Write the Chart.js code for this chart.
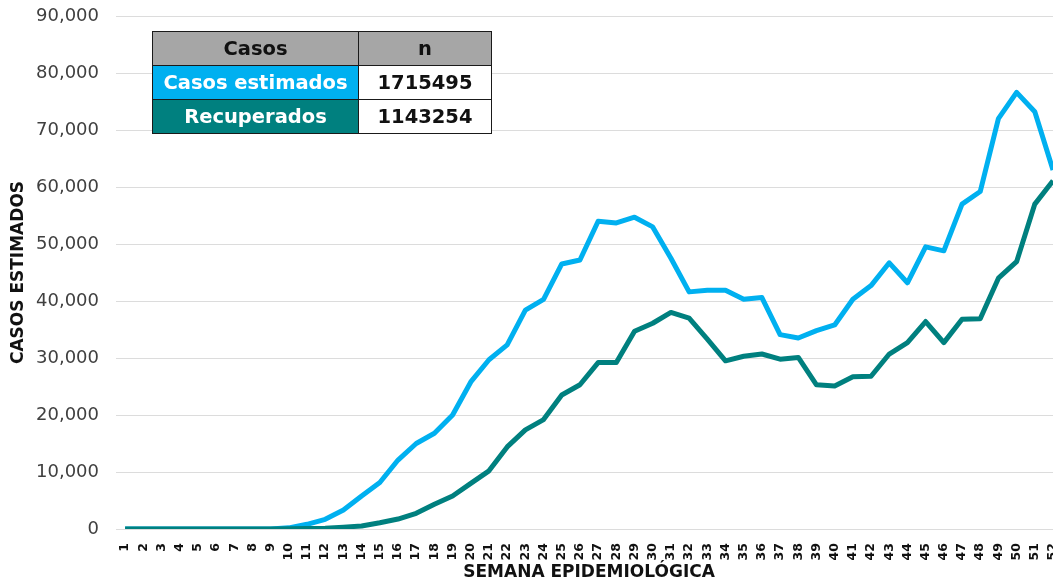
<!DOCTYPE html>
<html>
<head>
<meta charset="utf-8">
<script src="https://cdn.jsdelivr.net/npm/chart.js@4.4.1/dist/chart.umd.min.js"></script>
<style>
  html, body { margin: 0; padding: 0; background: #ffffff; overflow: hidden; }
  #wrap { position: relative; width: 1074px; height: 584px; }
  #resumen {
    position: absolute; left: 152px; top: 31px;
    border-collapse: collapse;
    font-family: 'DejaVu Sans', sans-serif; font-weight: bold; font-size: 19.5px;
  }
  #resumen td, #resumen th {
    border: 1.5px solid #1a1a1a; height: 33px; padding: 0; text-align: center;
  }
  #resumen th { background: #a6a6a6; color: #111111; }
  #resumen td.val { background: #ffffff; color: #111111; width: 132px; }
  #resumen td.est { background: #00b0f0; color: #ffffff; width: 205px; }
  #resumen td.rec { background: #00807f; color: #ffffff; }
</style>
</head>
<body>
<div id="wrap">
  <canvas id="chart"></canvas>
  <table id="resumen">
    <tr><th>Casos</th><th>n</th></tr>
    <tr><td class="est">Casos estimados</td><td class="val">1715495</td></tr>
    <tr><td class="rec">Recuperados</td><td class="val">1143254</td></tr>
  </table>
</div>
<script>
// semanas epidemiológicas
const semanas = ['1','2','3','4','5','6','7','8','9','10','11','12','13','14','15','16','17','18','19','20',
  '21','22','23','24','25','26','27','28','29','30','31','32','33','34','35','36','37','38','39','40',
  '41','42','43','44','45','46','47','48','49','50','51','52'];

// casos estimados por semana
const casosEstimados = [0, 0, 0, 0, 0, 0, 0, 0, 0, 200, 820, 1700, 3330, 5800, 8150, 12100, 15000, 16800,
  20000, 25800, 29700, 32300, 38400, 40300, 46500, 47200, 54000, 53700, 54700, 53000, 47500, 41600,
  41900, 41900, 40300, 40600, 34100, 33500, 34800, 35800, 40300, 42700, 46700, 43200, 49500, 48800,
  57000, 59200, 72000, 76600, 73200, 63000];

// recuperados por semana
const recuperados = [0, 0, 0, 0, 0, 0, 0, 0, 0, 30, 80, 150, 320, 530, 1100, 1750, 2750, 4330,
  5800, 8000, 10200, 14400, 17400, 19200, 23500, 25300, 29200, 29200, 34700, 36100, 38000, 37000,
  33300, 29500, 30300, 30700, 29800, 30100, 25300, 25100, 26700, 26800, 30700, 32700, 36400, 32700,
  36800, 36900, 44000, 46900, 57000, 61100];

const yMax = 90000;
const yStep = 10000;

const ctx = document.getElementById('chart');

new Chart(ctx, {
  type: 'line',
  data: {
    labels: semanas,
    datasets: [
      {
        label: 'Casos estimados',
        data: casosEstimados,
        borderColor: '#00b0f0',
        borderWidth: 5,
        tension: 0,
        pointRadius: 0,
        borderJoinStyle: 'round',
        order: 1
      },
      {
        label: 'Recuperados',
        data: recuperados,
        borderColor: '#00807f',
        borderWidth: 5,
        tension: 0,
        pointRadius: 0,
        borderJoinStyle: 'round',
        order: 0
      }
    ]
  },
  options: {
    responsive: true,
    maintainAspectRatio: false,
    animation: false,
    layout: { padding: { top: 16, right: 0, left: 0, bottom: 0 } },
    plugins: {
      legend: { display: false },
      tooltip: { enabled: false }
    },
    scales: {
      x: {
        offset: true,
        grid: { display: false },
        border: { display: false },
        ticks: {
          autoSkip: false,
          minRotation: 90,
          maxRotation: 90,
          padding: 6,
          color: '#111111',
          font: { family: 'DejaVu Sans', size: 12.5, weight: 'bold' }
        },
        title: {
          display: true,
          text: 'SEMANA EPIDEMIOLÓGICA',
          color: '#111111',
          padding: { top: 0, bottom: 1 },
          font: { family: 'DejaVu Sans', size: 17, weight: 'bold' }
        },
        afterFit: function(scale) { scale.height = 55; }
      },
      y: {
        min: 0,
        max: yMax,
        grid: { color: '#dcdcdc', lineWidth: 1, drawTicks: false },
        border: { display: false },
        ticks: {
          stepSize: yStep,
          padding: 17,
          color: '#404040',
          font: { family: 'DejaVu Sans', size: 18 },
          callback: function(v) { return v.toLocaleString('en-US'); }
        },
        title: {
          display: true,
          text: 'CASOS ESTIMADOS',
          color: '#111111',
          padding: { top: 8, bottom: 0 },
          font: { family: 'DejaVu Sans', size: 17, weight: 'bold' }
        },
        afterFit: function(scale) {
          scale.width = 116;
          // la etiqueta superior puede salir del área; el margen lo da layout.padding
          scale.paddingTop = 0;
          scale.paddingBottom = 0;
        }
      }
    }
  }
});
</script>
</body>
</html>
